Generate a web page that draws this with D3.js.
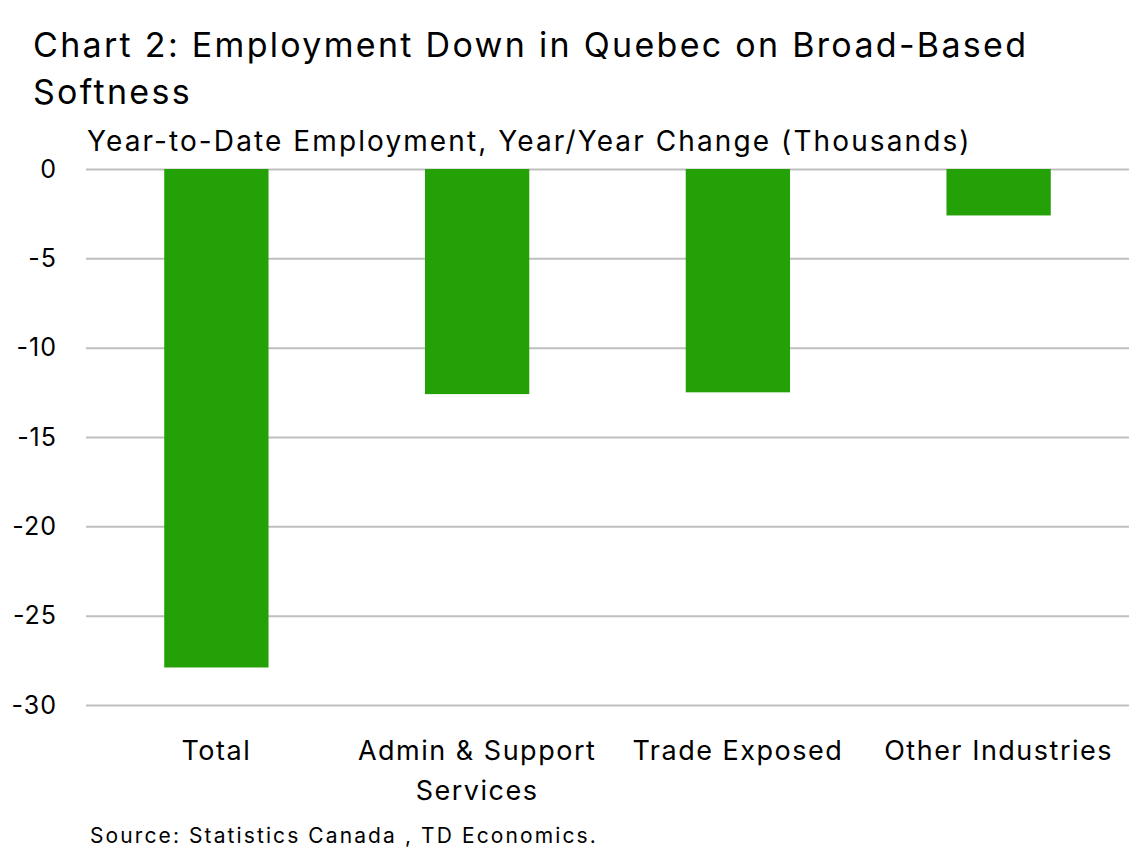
<!DOCTYPE html>
<html>
<head>
<meta charset="utf-8">
<script src="https://cdn.jsdelivr.net/npm/d3@7"></script>
<style>
  body { margin: 0; background: #fff; }
  svg { display: block; font-family: Inter, "Noto Sans", sans-serif; }
  .grid line { stroke: #bfbfbf; stroke-width: 2; }
  .grid .domain { display: none; }
</style>
</head>
<body>
<script>
const categories = [["Total"], ["Admin & Support", "Services"], ["Trade Exposed"], ["Other Industries"]];
const values = [-27.9, -12.6, -12.5, -2.6];
const yTicks = [0, -5, -10, -15, -20, -25, -30];

const width = 1144, height = 851;
const margin = { top: 169, right: 15, bottom: 146, left: 86 };

const svg = d3.select("body").append("svg")
  .attr("width", width)
  .attr("height", height);

const x = d3.scaleBand()
  .domain(d3.range(categories.length))
  .range([margin.left, width - margin.right])
  .paddingInner(0.6)
  .paddingOuter(0.3);

const y = d3.scaleLinear()
  .domain([0, -30])
  .range([margin.top, height - margin.bottom]);

// gridlines
svg.append("g")
  .attr("class", "grid")
  .attr("transform", "translate(" + margin.left + ",0)")
  .call(d3.axisLeft(y).tickValues(yTicks).tickSize(-(width - margin.right - margin.left)).tickFormat(""));

// y tick labels
svg.append("g")
  .selectAll("text")
  .data(yTicks)
  .join("text")
  .attr("x", 57)
  .attr("y", d => y(d))
  .attr("dy", "0.35em")
  .attr("text-anchor", "end")
  .attr("font-size", 25)
  .attr("letter-spacing", 1)
  .attr("fill", "#000")
  .text(d => d);

// bars
svg.append("g")
  .selectAll("rect")
  .data(values)
  .join("rect")
  .attr("x", (d, i) => x(i))
  .attr("width", x.bandwidth())
  .attr("y", d => y(Math.max(0, d)))
  .attr("height", d => Math.abs(y(d) - y(0)))
  .attr("fill", "#24a107");

// category labels
const cat = svg.append("g")
  .selectAll("text")
  .data(categories)
  .join("text")
  .attr("x", (d, i) => x(i) + x.bandwidth() / 2)
  .attr("y", 760)
  .attr("text-anchor", "middle")
  .attr("font-size", 27)
  .attr("letter-spacing", 1.5)
  .attr("fill", "#000");
cat.selectAll("tspan")
  .data(d => d)
  .join("tspan")
  .attr("x", function () { return this.parentNode.getAttribute("x"); })
  .attr("dy", (d, i) => i ? 40 : 0)
  .text(d => d);

// titles
const title = svg.append("text")
  .attr("x", 33)
  .attr("y", 57)
  .attr("font-size", 34)
  .attr("letter-spacing", 2.3)
  .attr("fill", "#000");
title.append("tspan").attr("x", 33).text("Chart 2: Employment Down in Quebec on Broad-Based");
title.append("tspan").attr("x", 33).attr("dy", 47).text("Softness");

svg.append("text")
  .attr("x", 87)
  .attr("y", 151)
  .attr("font-size", 28)
  .attr("letter-spacing", 2.1)
  .attr("fill", "#000")
  .text("Year-to-Date Employment, Year/Year Change (Thousands)");

svg.append("text")
  .attr("x", 90)
  .attr("y", 843)
  .attr("font-size", 21)
  .attr("letter-spacing", 2.1)
  .attr("fill", "#000")
  .text("Source: Statistics Canada , TD Economics.");
</script>
</body>
</html>
